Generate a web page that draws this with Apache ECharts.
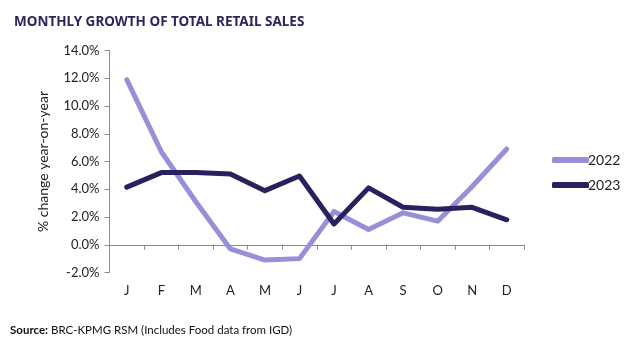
<!DOCTYPE html>
<html><head><meta charset="utf-8">
<script src="https://cdn.jsdelivr.net/npm/echarts@6/dist/echarts.min.js"></script>
<style>html,body{margin:0;padding:0;background:#fff}#c{width:628px;height:348px}</style>
</head><body><div id="c"></div>
<script>
const months = ['J','F','M','A','M','J','J','A','S','O','N','D'];
const s2022 = [11.9, 6.7, 3.1, -0.3, -1.1, -1.0, 2.4, 1.1, 2.3, 1.7, 4.2, 6.9];
const s2023 = [4.15, 5.2, 5.2, 5.1, 3.9, 4.95, 1.5, 4.1, 2.7, 2.55, 2.7, 1.8];
const yTicks = {min: -2, max: 14, interval: 2};

const chart = echarts.init(document.getElementById('c'));
const font = 'Lato';
chart.setOption({
  animation: false,
  title: {text: 'MONTHLY GROWTH OF TOTAL RETAIL SALES', left: 9, top: 10,
    textStyle: {fontFamily: 'Noto Sans', fontWeight: 'bold', fontSize: 13.5, color: '#2b275a'}},
  grid: {left: 109.5, right: 104, top: 50.5, bottom: 75.5},
  legend: {orient: 'vertical', left: 547, top: 148, itemGap: 11, itemWidth: 37, itemHeight: 6,
    icon: 'roundRect',
    textStyle: {fontFamily: font, fontSize: 14, color: '#222', padding: [0,0,0,-6]},
    data: ['2022', '2023']},
  xAxis: [
    {type: 'category', data: months, boundaryGap: true,
     axisLine: {onZero: true, lineStyle: {color: '#8c8c8c', width: 1}},
     axisTick: {show: true, length: 5, lineStyle: {color: '#8c8c8c'}},
     axisLabel: {show: false}},
    {type: 'category', data: months, position: 'bottom', boundaryGap: true,
     axisLine: {show: false, onZero: false}, axisTick: {show: false},
     axisLabel: {fontFamily: font, fontSize: 13, color: '#222', margin: 12}}
  ],
  yAxis: {type: 'value', min: yTicks.min, max: yTicks.max, interval: yTicks.interval,
    name: '% change year-on-year', nameLocation: 'middle', nameGap: 59, nameRotate: 90,
    nameTextStyle: {fontFamily: font, fontSize: 14, color: '#222'},
    axisLine: {show: true, lineStyle: {color: '#8c8c8c'}},
    axisTick: {show: true, length: 5, lineStyle: {color: '#8c8c8c'}},
    splitLine: {show: false},
    axisLabel: {fontFamily: font, fontSize: 13, color: '#222', margin: 10,
      formatter: v => v.toFixed(1) + '%'}},
  series: [
    {name: '2022', type: 'line', data: s2022, xAxisIndex: 0, symbol: 'none',
     lineStyle: {width: 5, color: '#9690d9', cap: 'round', join: 'round'}, itemStyle: {color: '#9690d9'}},
    {name: '2023', type: 'line', data: s2023, xAxisIndex: 0, symbol: 'none',
     lineStyle: {width: 5, color: '#27225e', cap: 'round', join: 'round'}, itemStyle: {color: '#27225e'}}
  ],
  graphic: [{type: 'text', left: 10, top: 324,
    style: {text: '{b|Source:} BRC-KPMG RSM (Includes Food data from IGD)',
      rich: {b: {fontWeight: 'bold', fontFamily: font, fontSize: 11.5, fill: '#111'}},
      fontFamily: font, fontSize: 11.5, fill: '#111'}}]
});
</script></body></html>
